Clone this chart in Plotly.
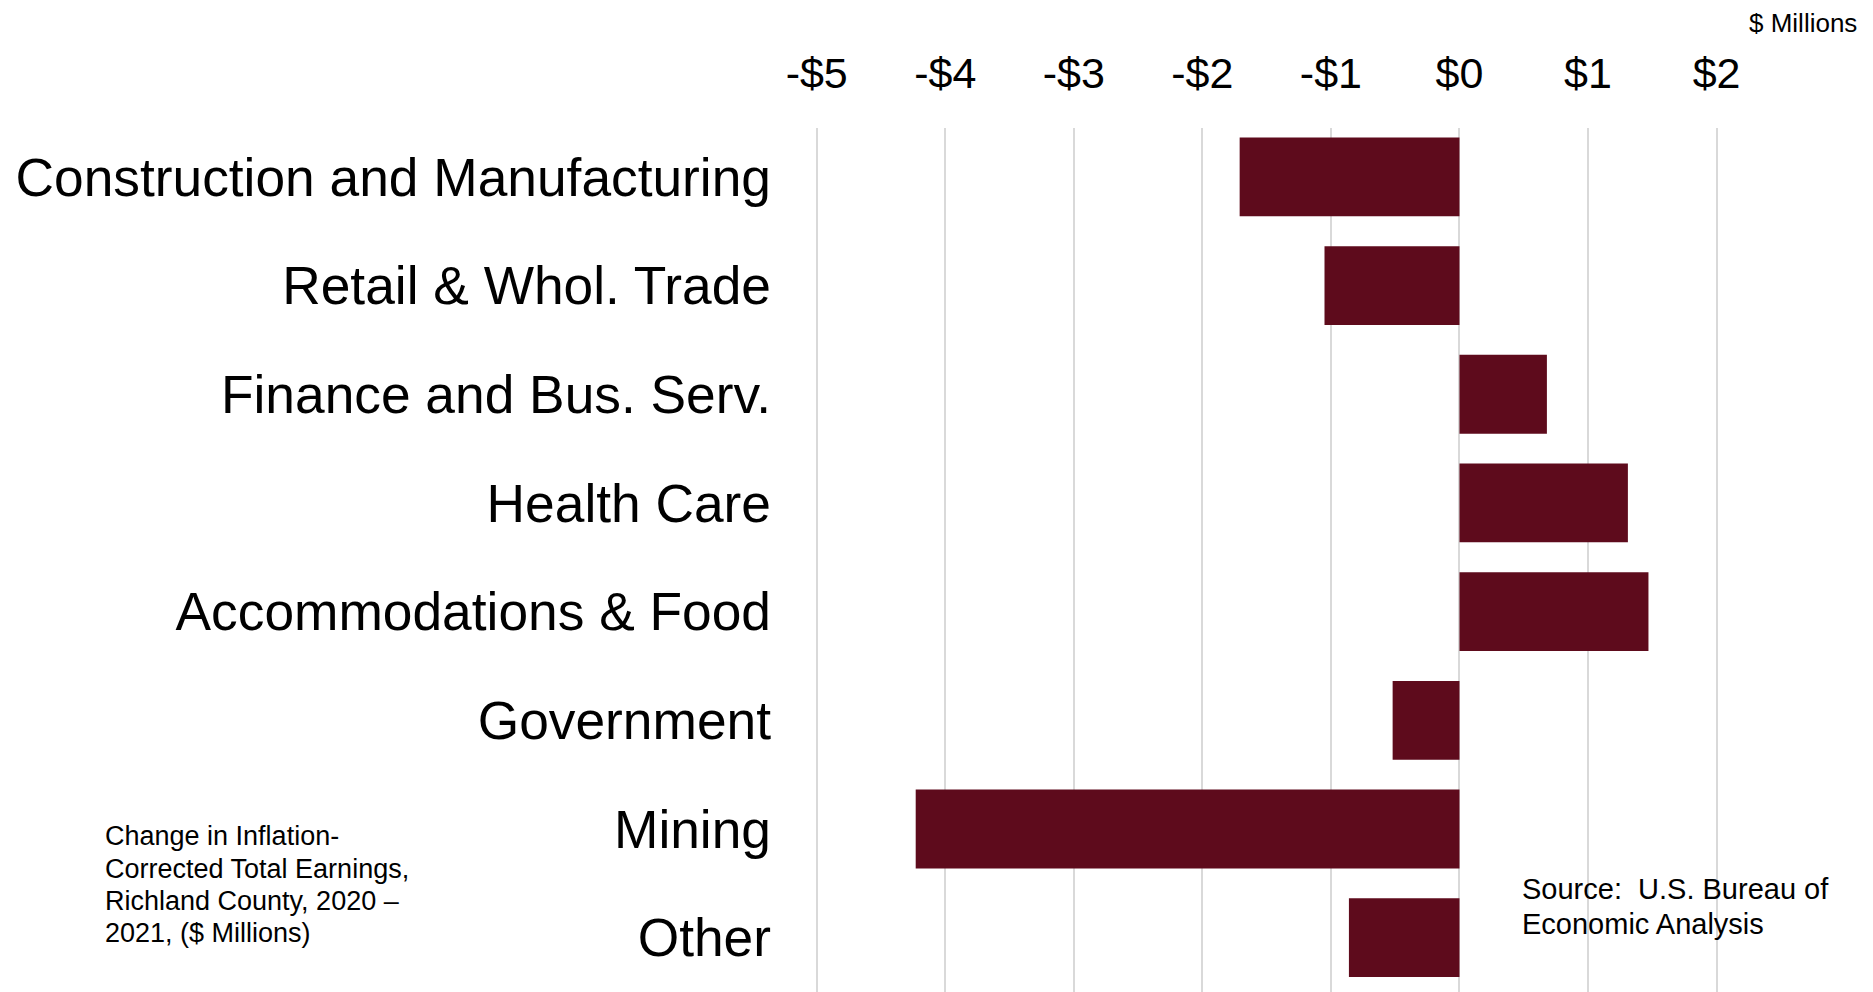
import plotly.graph_objects as go

categories = [
    "Construction and Manufacturing",
    "Retail & Whol. Trade",
    "Finance and Bus. Serv.",
    "Health Care",
    "Accommodations & Food",
    "Government",
    "Mining",
    "Other",
]
values = [-1.71, -1.05, 0.68, 1.31, 1.47, -0.52, -4.23, -0.86]
tick_vals = [-5, -4, -3, -2, -1, 0, 1, 2]
tick_text = ["-$5", "-$4", "-$3", "-$2", "-$1", "$0", "$1", "$2"]
note_lines = [
    "Change in Inflation-",
    "Corrected Total Earnings,",
    "Richland County, 2020 \u2013",
    "2021, ($ Millions)",
]
source_lines = ["Source:&nbsp; U.S. Bureau of", "Economic Analysis"]

BAR = "#5E0B1C"
FONT = "Liberation Sans, Arial, sans-serif"

fig = go.Figure(
    go.Bar(
        x=values,
        y=categories,
        orientation="h",
        marker=dict(color=BAR, line=dict(width=0)),
        hoverinfo="x+y",
    )
)

# page body has an 8px margin; figure coords = screen coords - 8
OFF = 8
W, H = 1873, 992
L = 778 - OFF
T = 128 - OFF
R = W - (1858 - OFF)
B = OFF
PW = W - L - R
PH = H - T - B


def px_x(p):
    return (p - OFF - L) / PW


def px_y(p):
    return (H - B - (p - OFF)) / PH


annotations = []
note_y = [836, 868.5, 901, 933]
for line, yy in zip(note_lines, note_y):
    annotations.append(dict(
        text=line, xref="paper", yref="paper",
        x=px_x(97), y=px_y(yy),
        xanchor="left", yanchor="middle", align="left",
        showarrow=False, borderpad=0,
        font=dict(size=27, family=FONT, color="black"),
    ))
source_y = [889, 923.5]
for line, yy in zip(source_lines, source_y):
    annotations.append(dict(
        text=line, xref="paper", yref="paper",
        x=px_x(1520), y=px_y(yy),
        xanchor="left", yanchor="middle", align="left",
        showarrow=False, borderpad=0,
        font=dict(size=29, family=FONT, color="black"),
    ))
annotations.append(dict(
    text="$ Millions", xref="paper", yref="paper",
    x=px_x(1858), y=px_y(23),
    xanchor="right", yanchor="middle", align="right",
    showarrow=False, borderpad=0,
    font=dict(size=26, family=FONT, color="black"),
))

fig.update_layout(
    width=W,
    height=H,
    margin=dict(l=L, r=R, t=T, b=B, pad=0),
    paper_bgcolor="white",
    plot_bgcolor="white",
    bargap=0.275,
    showlegend=False,
    font=dict(family=FONT, color="black"),
    xaxis=dict(
        side="top",
        range=[-5.27, 3.10],
        tickvals=tick_vals,
        ticktext=tick_text,
        tickfont=dict(size=43, family=FONT, color="black"),
        showgrid=True,
        gridcolor="#D9D9D9",
        gridwidth=1.5,
        zeroline=False,
        showline=False,
        ticks="",
        ticklabelstandoff=30,
    ),
    yaxis=dict(
        type="category",
        categoryorder="array",
        categoryarray=categories,
        range=[7.5, -0.45],
        tickfont=dict(size=53.3, family=FONT, color="black"),
        showgrid=False,
        zeroline=False,
        showline=False,
        ticks="",
        ticklabelstandoff=10,
    ),
    annotations=annotations,
)

fig.write_html("out.html")
